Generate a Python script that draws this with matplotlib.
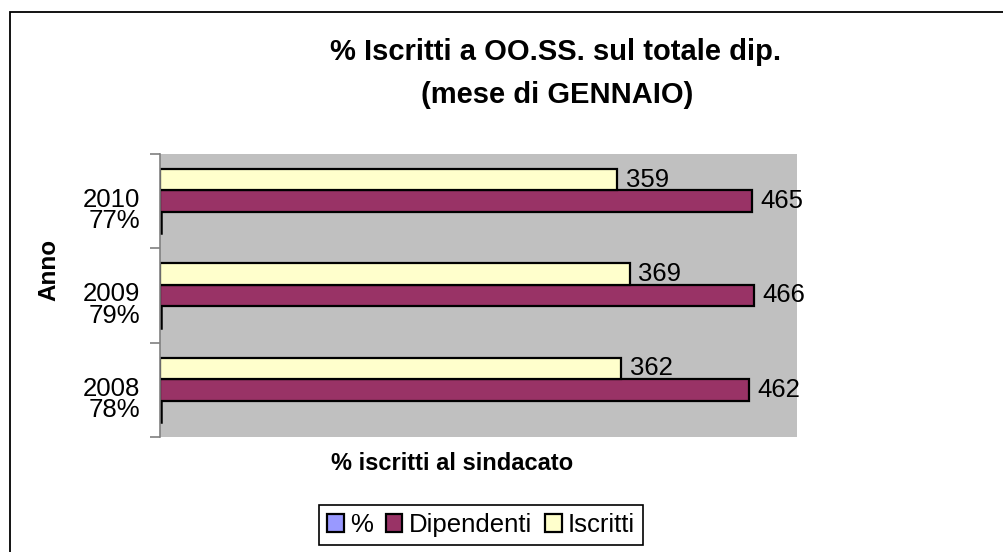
import matplotlib
matplotlib.use("Agg")
import matplotlib.pyplot as plt
from matplotlib.patches import Patch, Rectangle
import numpy as np

plt.rcParams['font.family'] = ['Liberation Sans', 'DejaVu Sans']

# data
anni = ['2008', '2009', '2010']
percentuali = ['78%', '79%', '77%']
perc_valori = [0.78, 0.79, 0.77]
dipendenti = [462, 466, 465]
iscritti = [362, 369, 359]

col_perc = '#9999FF'
col_dip = '#993366'
col_isc = '#FFFFCC'

fig = plt.figure(figsize=(10.04, 5.52), dpi=100)

# outer chart frame (only left and top edges visible in the crop)
frame = Rectangle((10 / 1004, -0.2), 1.3, 1.2 - 12 / 552, transform=fig.transFigure,
                  fill=False, edgecolor='black', linewidth=1.3)
fig.patches.append(frame)

ax = fig.add_axes([160 / 1004, 1 - 437 / 552, 637 / 1004, 283 / 552])
ax.set_facecolor('#C0C0C0')

y = np.arange(len(anni))
h = 0.227

ax.barh(y - h, perc_valori, height=h, color=col_perc, edgecolor='black', linewidth=1.8)
b_dip = ax.barh(y, dipendenti, height=h, color=col_dip, edgecolor='black', linewidth=1.6)
b_isc = ax.barh(y + h, iscritti, height=h, color=col_isc, edgecolor='black', linewidth=1.6)

ax.bar_label(b_dip, padding=6, fontsize=18.5)
ax.bar_label(b_isc, padding=6, fontsize=18.5)

ax.set_xlim(0, 500)
ax.set_ylim(-0.5, len(anni) - 0.5)

# category labels at group centres, tick marks at boundaries
etichette = [a + '\n' + p for a, p in zip(anni, percentuali)]
ax.set_yticks(y - 0.09)
ax.set_yticklabels(etichette, fontsize=18.5, linespacing=0.86, ha='right')
ax.tick_params(axis='y', which='major', length=0, pad=14.5)
ax.set_yticks(np.arange(len(anni) + 1) - 0.5, minor=True)
ax.tick_params(axis='y', which='minor', length=7, color='#808080', width=1.2)

ax.set_xticks([])
for s in ['top', 'right', 'bottom']:
    ax.spines[s].set_visible(False)
ax.spines['left'].set_color('#808080')
ax.spines['left'].set_linewidth(1.2)

# titles and axis labels
fig.text(556 / 1004, 1 - 52 / 552, '% Iscritti a OO.SS. sul totale dip.', fontsize=21,
         fontweight='bold', ha='center', va='center')
fig.text(557 / 1004, 1 - 95 / 552, '(mese di GENNAIO)', fontsize=21,
         fontweight='bold', ha='center', va='center')
fig.text(452 / 1004, 1 - 464 / 552, '% iscritti al sindacato', fontsize=17,
         fontweight='bold', ha='center', va='center')
fig.text(49 / 1004, 1 - 270 / 552, 'Anno', fontsize=17.5, fontweight='bold',
         ha='center', va='center', rotation=90)

handles = [Patch(facecolor=col_perc, edgecolor='black', linewidth=1.6),
           Patch(facecolor=col_dip, edgecolor='black', linewidth=1.6),
           Patch(facecolor=col_isc, edgecolor='black', linewidth=1.6)]
leg = fig.legend(handles, ['%', 'Dipendenti', 'Iscritti'], ncol=3, loc='center',
                 bbox_to_anchor=(481 / 1004, 1 - 525 / 552), fontsize=18.5,
                 handlelength=0.65, handleheight=0.65, handletextpad=0.25,
                 columnspacing=0.5, borderpad=0.3, fancybox=False,
                 edgecolor='black', framealpha=1)
leg.get_frame().set_linewidth(1.2)

fig.savefig('out.png', dpi=100)
